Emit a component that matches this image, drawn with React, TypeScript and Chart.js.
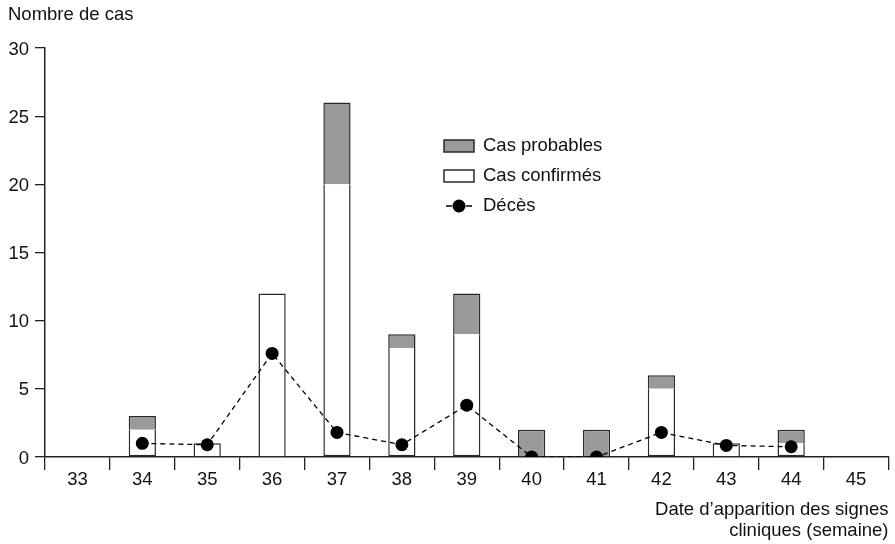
import { useEffect, useRef } from "react";
import { Chart, registerables } from "chart.js";

Chart.register(...registerables);

const weeks = ["33", "34", "35", "36", "37", "38", "39", "40", "41", "42", "43", "44", "45"];
const confirmed = [null, 2, 1, 12, 20, 8, 9, null, null, 5, 1, 1, null];
const probable = [null, 1, null, null, 6, 1, 3, 2, 2, 1, null, 1, null];
const deaths = [null, 1, 0.9, 7.6, 1.8, 0.9, 3.8, 0, 0, 1.8, 0.85, 0.75, null];
const yMin = 0;
const yMax = 30;
const yStep = 5;
const yTitle = "Nombre de cas";
const xTitle = ["Date d’apparition des signes", "cliniques (semaine)"];
const legendLabels = ["Cas probables", "Cas confirmés", "Décès"];

const FONT = "'Liberation Sans', Arial, Helvetica, sans-serif";
const FSIZE = 18.5;
const TEXT = "#111111";
const AXIS = "#222222";
const GREY = "#9a9a9a";
const BORDER = "#2a2a2a";

const overlayPlugin = {
  id: "overlayText",
  afterDraw(chart: any) {
    const ctx = chart.ctx as CanvasRenderingContext2D;
    const area = chart.chartArea;
    ctx.save();
    ctx.font = `${FSIZE}px ${FONT}`;
    ctx.fillStyle = TEXT;
    ctx.textBaseline = "middle";
    ctx.textAlign = "left";
    ctx.fillText(yTitle, 8, 15);

    // legend
    const lx = area.left + 399;
    const rows = [area.top + 98, area.top + 128, area.top + 158];
    const boxW = 30;
    const boxH = 12;
    ctx.lineWidth = 1.5;
    ctx.strokeStyle = BORDER;
    ctx.fillStyle = GREY;
    ctx.fillRect(lx, rows[0] - boxH / 2, boxW, boxH);
    ctx.strokeRect(lx, rows[0] - boxH / 2, boxW, boxH);
    ctx.fillStyle = "#ffffff";
    ctx.fillRect(lx, rows[1] - boxH / 2, boxW, boxH);
    ctx.strokeRect(lx, rows[1] - boxH / 2, boxW, boxH);
    ctx.strokeStyle = "#000";
    ctx.lineWidth = 1.3;
    ctx.beginPath();
    ctx.moveTo(lx + 2, rows[2]);
    ctx.lineTo(lx + 8, rows[2]);
    ctx.moveTo(lx + 22, rows[2]);
    ctx.lineTo(lx + 28, rows[2]);
    ctx.stroke();
    ctx.fillStyle = "#000";
    ctx.beginPath();
    ctx.arc(lx + 15, rows[2], 6.5, 0, Math.PI * 2);
    ctx.fill();

    ctx.fillStyle = TEXT;
    legendLabels.forEach((t, i) => ctx.fillText(t, lx + 39, rows[i]));
    ctx.restore();
  },
};

export default function App() {
  const ref = useRef<HTMLCanvasElement | null>(null);

  useEffect(() => {
    if (!ref.current) return;
    const font = { family: FONT, size: FSIZE };
    const chart = new Chart(ref.current, {
      type: "bar",
      data: {
        labels: weeks,
        datasets: [
          {
            type: "line",
            label: legendLabels[2],
            data: deaths as any,
            stack: "deaths",
            order: 0,
            borderColor: "#000",
            borderWidth: 1.3,
            borderDash: [5, 4],
            backgroundColor: "#000",
            pointBackgroundColor: "#000",
            pointBorderColor: "#000",
            pointRadius: 6.5,
            pointBorderWidth: 0,
            tension: 0,
            fill: false,
          } as any,
          {
            type: "bar",
            label: legendLabels[1],
            data: confirmed as any,
            stack: "cases",
            order: 1,
            backgroundColor: "#ffffff",
            borderColor: BORDER,
            borderWidth: 1.5,
            borderSkipped: (ctx: any) => (probable[ctx.dataIndex] ? "top" : "start"),
            categoryPercentage: 1,
            barPercentage: 0.42,
          } as any,
          {
            type: "bar",
            label: legendLabels[0],
            data: probable as any,
            stack: "cases",
            order: 2,
            backgroundColor: GREY,
            borderColor: BORDER,
            borderWidth: 1.5,
            borderSkipped: "start",
            categoryPercentage: 1,
            barPercentage: 0.42,
          } as any,
        ],
      },
      options: {
        animation: false,
        responsive: false,
        layout: { padding: { top: 48, right: 3, left: 0, bottom: 0 } },
        plugins: {
          legend: { display: false },
          tooltip: { enabled: false },
          title: { display: false },
        },
        scales: {
          x: {
            stacked: true,
            offset: true,
            grid: {
              offset: true,
              drawOnChartArea: false,
              drawTicks: true,
              tickLength: 13,
              color: AXIS,
              lineWidth: 1.3,
            },
            border: { display: true, color: AXIS, width: 1.5 },
            ticks: { color: TEXT, font, padding: -1, maxRotation: 0, autoSkip: false },
            title: {
              display: true,
              text: xTitle,
              align: "end",
              color: TEXT,
              font: { family: FONT, size: FSIZE, lineHeight: 1.17 },
              padding: { top: 0, bottom: 2 },
            },
            afterFit: (s: any) => {
              s.height = 87;
            },
          },
          y: {
            stacked: true,
            min: yMin,
            max: yMax,
            ticks: { stepSize: yStep, color: TEXT, font, padding: 6, labelOffset: 1.5 },
            grid: { drawOnChartArea: false, tickLength: 10, color: AXIS, lineWidth: 1.3 },
            border: { display: true, color: AXIS, width: 1.5 },
            afterFit: (s: any) => {
              s.width = 45;
            },
          },
        },
      } as any,
      plugins: [overlayPlugin],
    });
    return () => chart.destroy();
  }, []);

  return (
    <div style={{ position: "fixed", left: 0, top: 0, width: 895, height: 544, background: "#fff" }}>
      <canvas ref={ref} width={895} height={544} />
    </div>
  );
}
